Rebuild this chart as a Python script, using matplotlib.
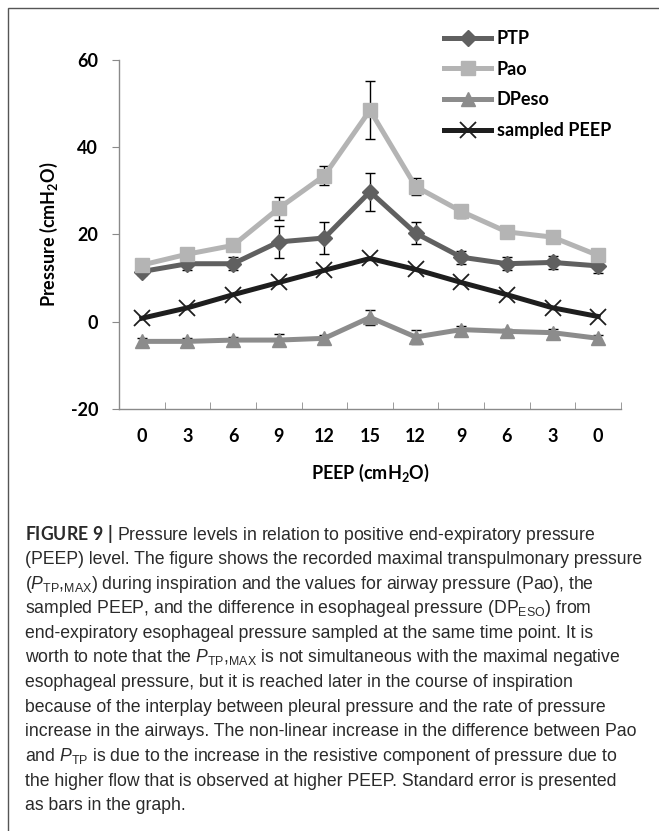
import matplotlib
matplotlib.use("Agg")
import matplotlib.pyplot as plt
from matplotlib.patches import Rectangle
import numpy as np

plt.rcParams["font.family"] = ["Lato", "DejaVu Sans"]
plt.rcParams["axes.unicode_minus"] = False
plt.rcParams["mathtext.fontset"] = "custom"
plt.rcParams["mathtext.rm"] = "Liberation Sans"
plt.rcParams["mathtext.it"] = "Liberation Sans:italic"
plt.rcParams["mathtext.bf"] = "Lato:bold"

peep_labels = ["0", "3", "6", "9", "12", "15", "12", "9", "6", "3", "0"]

ptp = [11.5, 13.3, 13.3, 18.3, 19.2, 29.8, 20.3, 14.8, 13.3, 13.6, 12.8]
ptp_err = [0.8, 1.5, 1.5, 3.7, 3.7, 4.3, 2.5, 1.5, 1.5, 1.5, 1.7]

pao = [13.0, 15.5, 17.5, 26.0, 33.5, 48.5, 31.0, 25.3, 20.6, 19.4, 15.2]
pao_err = [1.0, 1.0, 1.0, 2.6, 2.2, 6.7, 2.0, 1.5, 1.0, 1.0, 1.0]

dpeso = [-4.5, -4.5, -4.2, -4.2, -3.8, 1.0, -3.5, -1.8, -2.2, -2.5, -3.8]
dpeso_err = [0.8, 0.8, 0.8, 1.3, 0.8, 1.8, 1.5, 0.8, 0.6, 0.8, 0.8]

sampled_peep = [0.8, 3.2, 6.2, 9.0, 11.8, 14.5, 12.0, 9.0, 6.2, 3.2, 1.2]

caption = [
    r"$\mathbf{FIGURE\ 9\ |}$ Pressure levels in relation to positive end-expiratory pressure",
    "(PEEP) level. The figure shows the recorded maximal transpulmonary pressure",
    r"($\mathit{P}_{\mathrm{TP}}$,$_{\mathrm{MAX}}$) during inspiration and the values for airway pressure (Pao), the",
    r"sampled PEEP, and the difference in esophageal pressure (DP$_{\mathrm{ESO}}$) from",
    "end-expiratory esophageal pressure sampled at the same time point. It is",
    r"worth to note that the $\mathit{P}_{\mathrm{TP}}$,$_{\mathrm{MAX}}$ is not simultaneous with the maximal negative",
    "esophageal pressure, but it is reached later in the course of inspiration",
    "because of the interplay between pleural pressure and the rate of pressure",
    "increase in the airways. The non-linear increase in the difference between Pao",
    r"and $\mathit{P}_{\mathrm{TP}}$ is due to the increase in the resistive component of pressure due to",
    "the higher flow that is observed at higher PEEP. Standard error is presented",
    "as bars in the graph.",
]

W, H = 659, 831
fig = plt.figure(figsize=(W / 100, H / 100), dpi=100)
ax = fig.add_axes([119 / W, 1 - 409 / H, 502 / W, 349 / H])

x = np.arange(len(peep_labels))

# error bars sit underneath the markers
for vals, errs in [(ptp, ptp_err), (pao, pao_err), (dpeso, dpeso_err)]:
    ax.errorbar(x, vals, yerr=errs, fmt="none", ecolor="black",
                elinewidth=1.0, capsize=3.5, capthick=1.0, zorder=1)

ax.plot(x, ptp, color="#606060", lw=3.6, marker="D", ms=8.5, label="PTP", zorder=3)
ax.plot(x, pao, color="#b4b4b4", lw=3.6, marker="s", ms=10, label="Pao", zorder=4)
ax.plot(x, dpeso, color="#8c8c8c", lw=3.6, marker="^", ms=10, label="DPeso", zorder=3)
ax.plot(x, sampled_peep, color="#1e1e1e", lw=3.6, marker="x", ms=11, mew=1.3,
        label="sampled PEEP", zorder=5)

ax.set_xlim(-0.5, len(x) - 0.5)
ax.set_ylim(-20, 60)
ax.set_yticks([-20, 0, 20, 40, 60])
ax.set_xticks(x)
ax.set_xticklabels(peep_labels)
ax.set_xticks(np.arange(len(x) + 1) - 0.5, minor=True)

for s in ["top", "right"]:
    ax.spines[s].set_visible(False)
for s in ["left", "bottom"]:
    ax.spines[s].set_color("#8a8a8a")
    ax.spines[s].set_linewidth(1.0)

ax.tick_params(axis="y", direction="out", length=5, color="#8a8a8a",
               labelsize=13, pad=10)
ax.tick_params(axis="x", which="major", length=0, labelsize=13, pad=14)
ax.tick_params(axis="x", which="minor", direction="in", length=5, color="#8a8a8a")
for lab in ax.get_xticklabels() + ax.get_yticklabels():
    lab.set_fontweight("bold")

ax.set_ylabel(r"Pressure (cmH$_{\mathbf{2}}$O)", fontsize=13, fontweight="bold", labelpad=8)
ax.set_xlabel(r"PEEP (cmH$_{\mathbf{2}}$O)", fontsize=13, fontweight="bold", labelpad=12)

leg = fig.legend(loc="upper left", bbox_to_anchor=(428 / W, 1 - 14 / H),
                 frameon=False, handlelength=2.6, handletextpad=0.3,
                 labelspacing=0.75, prop={"weight": "bold", "size": 13})

# frame around the whole figure panel
fig.add_artist(Rectangle((8 / W, -0.1), 1.2, 1.1 - 8 / H, transform=fig.transFigure,
                         fill=False, edgecolor="#555555", lw=1.0))

y0 = 535
for i, line in enumerate(caption):
    fig.text(25 / W, 1 - (y0 + i * 24.6) / H, line, fontsize=12.7,
             family="Liberation Sans", color="#2a2a2a", va="center", ha="left")

fig.savefig("out.png", dpi=100)
